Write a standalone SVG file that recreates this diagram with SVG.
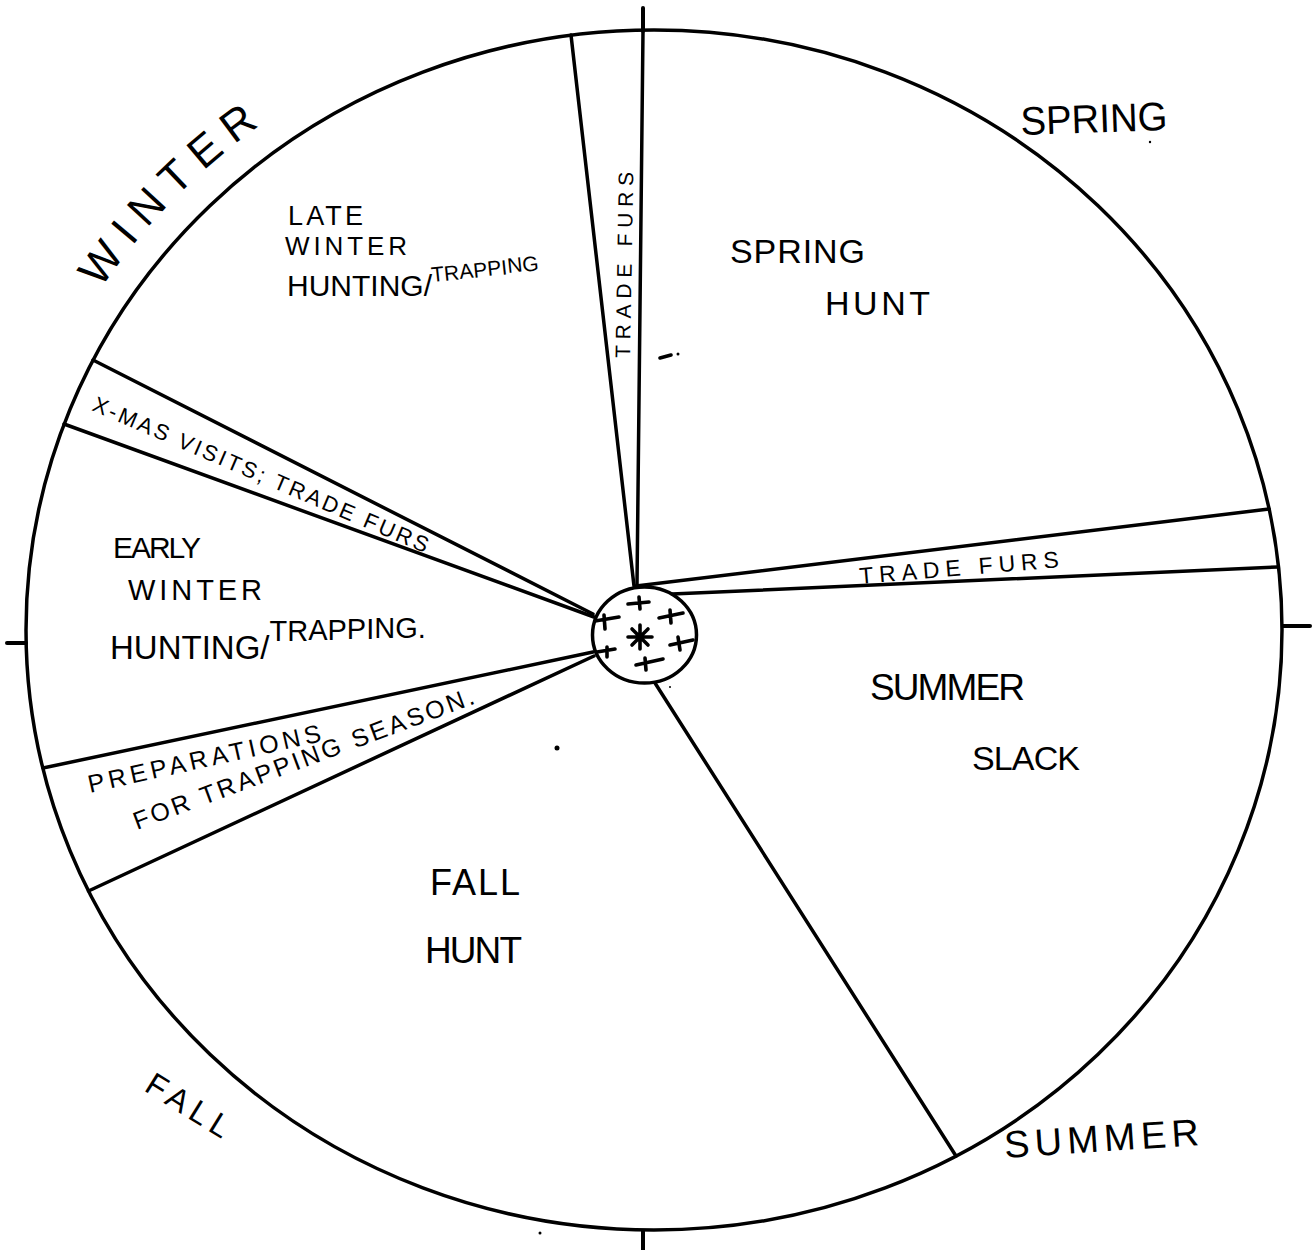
<svg xmlns="http://www.w3.org/2000/svg" width="1315" height="1250" viewBox="0 0 1315 1250">
<style>
.ln{fill:none;stroke:#000;stroke-width:3.5;stroke-linecap:round;stroke-linejoin:round}
.tk{fill:none;stroke:#000;stroke-width:4;stroke-linecap:round}
.pl{fill:none;stroke:#000;stroke-width:3.6;stroke-linecap:round}
text{font-family:"Liberation Sans","DejaVu Sans",sans-serif;fill:#000}
.mark{fill:#000}
</style>
<defs>
<path id="winterArc" d="M35.7,414.5 A658,630 0 0 1 429,38"/>
</defs>
<rect width="1315" height="1250" fill="#fff"/>

<g id="outline">
<ellipse class="ln" cx="654" cy="630" rx="628" ry="600"/>
<line class="tk" x1="643" y1="8" x2="643" y2="31"/>
<line class="tk" x1="7" y1="643" x2="26" y2="643"/>
<line class="tk" x1="1283" y1="626" x2="1310" y2="626"/>
<line class="tk" x1="643" y1="1231" x2="643" y2="1250"/>
</g>

<g id="connectors">
<line class="ln" x1="634" y1="586" x2="571" y2="35"/>
<line class="ln" x1="637" y1="585" x2="643" y2="31"/>
<line class="ln" x1="636" y1="586" x2="1269" y2="509"/>
<line class="ln" x1="672" y1="594" x2="1278" y2="567"/>
<line class="ln" x1="593" y1="614" x2="93" y2="360"/>
<line class="ln" x1="594" y1="617" x2="64" y2="424"/>
<line class="ln" x1="593" y1="652" x2="43" y2="768"/>
<line class="ln" x1="594" y1="656" x2="88.5" y2="891"/>
<line class="ln" x1="655" y1="683" x2="956" y2="1156"/>
</g>

<g id="hub">
<ellipse class="ln" cx="644.5" cy="635" rx="52" ry="48"/>
<path class="pl" d="M628,604 L649,602 M639,597 L640,609"/>
<path class="pl" d="M595,621 L619,617 M604,615 L605,629"/>
<path class="pl" d="M659,618 L683,613 M670,610 L671,623"/>
<path class="pl" d="M597,652 L615,649 M607,647 L607,657"/>
<path class="pl" d="M670,645 L693,640 M678,637 L680,650"/>
<path class="pl" d="M636,665 L663,659 M645,658 L646,670"/>
<path class="pl" d="M628,637 L652,637 M640,625 L640,649 M632,629 L648,645 M648,629 L632,645"/>
</g>

<g id="season-labels">
<text font-size="44" letter-spacing="11"><textPath href="#winterArc" startOffset="142">WINTER</textPath></text>
<text x="1021" y="135" font-size="40" textLength="147" lengthAdjust="spacingAndGlyphs" transform="rotate(-2 1021 135)">SPRING</text>
<text x="1005" y="1158" font-size="38" textLength="195" lengthAdjust="spacing" transform="rotate(-3.8 1005 1158)">SUMMER</text>
<text x="143" y="1090" font-size="32" textLength="93" lengthAdjust="spacing" transform="rotate(32 143 1090)">FALL</text>
</g>

<g id="late-winter">
<text x="288" y="225" font-size="27" textLength="75" lengthAdjust="spacing">LATE</text>
<text x="285" y="255" font-size="26" textLength="122" lengthAdjust="spacing">WINTER</text>
<text x="287" y="296" font-size="30">HUNTING/<tspan font-size="21" dy="-14 -1 -2 -1 -2 -1 -2 -1" rotate="-6">TRAPPING</tspan></text>
</g>

<g id="trade-furs-top">
<text x="630" y="358" font-size="21" textLength="186" lengthAdjust="spacing" transform="rotate(-89 630 358)">TRADE FURS</text>
</g>

<g id="spring-hunt">
<text x="730" y="263" font-size="34" textLength="135" lengthAdjust="spacing">SPRING</text>
<text x="825" y="315" font-size="34" textLength="105" lengthAdjust="spacing">HUNT</text>
</g>

<g id="trade-furs-right">
<text x="860" y="584" font-size="23" textLength="200" lengthAdjust="spacing" transform="rotate(-4.8 860 584)">TRADE FURS</text>
</g>

<g id="xmas-visits">
<text x="91" y="410" font-size="22" textLength="363" lengthAdjust="spacing" transform="rotate(23.2 91 410)">X-MAS VISITS; TRADE FURS</text>
</g>

<g id="early-winter">
<text x="113" y="558" font-size="30" textLength="88" lengthAdjust="spacing">EARLY</text>
<text x="128" y="600" font-size="29" textLength="134" lengthAdjust="spacing">WINTER</text>
<text x="110" y="659" font-size="33">HUNTING/<tspan font-size="29" dy="-18 0 -1 0 -1 0 -1 0 0">TRAPPING.</tspan></text>
</g>

<g id="preparations">
<text x="90" y="793" font-size="25" textLength="238" lengthAdjust="spacing" transform="rotate(-12.6 90 793)">PREPARATIONS</text>
<text x="137" y="830" font-size="25" textLength="362" lengthAdjust="spacing" transform="rotate(-20.5 137 830)">FOR TRAPPING SEASON.</text>
</g>

<g id="summer-slack">
<text x="870" y="700" font-size="37" textLength="155" lengthAdjust="spacing">SUMMER</text>
<text x="972" y="770" font-size="34" textLength="108" lengthAdjust="spacing">SLACK</text>
</g>

<g id="fall-hunt">
<text x="430" y="895" font-size="36" textLength="90" lengthAdjust="spacing">FALL</text>
<text x="425" y="963" font-size="37" textLength="97" lengthAdjust="spacing">HUNT</text>
</g>

<g id="marks">
<line class="pl" x1="660" y1="358" x2="671" y2="355" stroke-width="3"/>
<circle class="mark" cx="678" cy="354" r="1.5"/>
<circle class="mark" cx="557" cy="748" r="2.5"/>
<circle class="mark" cx="1150" cy="142" r="1.2"/>
<circle class="mark" cx="540" cy="1233" r="1.5"/>
<circle class="mark" cx="670" cy="687" r="1"/>
</g>
</svg>
